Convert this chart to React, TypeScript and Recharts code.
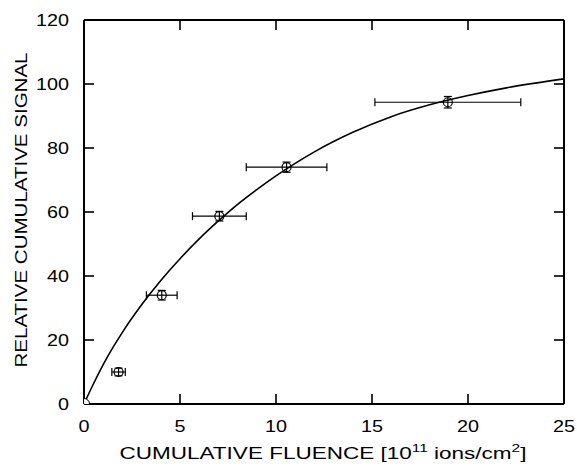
import React from 'react';
import {
  ComposedChart,
  Line,
  Scatter,
  ErrorBar,
  XAxis,
  YAxis,
  ReferenceLine,
} from 'recharts';

// measured points (fluence in 1e11 ions/cm2, relative signal)
const fluence = [1.8, 4.05, 7.05, 10.55, 18.95];
const signal = [10, 34, 58.7, 74, 94.3];
const fluenceErr = [0.35, 0.8, 1.4, 2.1, 3.8];
const signalErr = [1.2, 1.5, 1.5, 1.6, 1.8];

// origin marker
const originX = [0];
const originY = [0];

// fitted curve
const curveX = [0, 0.5, 1, 1.5, 2, 3, 4, 5, 6, 7, 8, 9, 10, 11, 12, 14, 16, 18, 20, 22, 25];
const curveY = [0, 6.4, 12.3, 17.6, 22.4, 31.0, 38.6, 45.4, 51.6, 57.2, 62.4, 67.0, 71.3, 75.2, 78.8, 84.9, 89.8, 93.5, 96.4, 98.8, 101.6];

const xTicks = [0, 5, 10, 15, 20, 25];
const yTicks = [0, 20, 40, 60, 80, 100, 120];

const X_MIN = 0;
const X_MAX = 25;
const Y_MIN = 0;
const Y_MAX = 120;

const points = fluence.map((x, i) => ({
  x,
  y: signal[i],
  xErr: fluenceErr[i],
  yErr: signalErr[i],
}));
const origin = originX.map((x, i) => ({ x, y: originY[i] }));
const curve = curveX.map((x, i) => ({ x, y: curveY[i] }));

// inward tick marks on the frame sides, placed at the tick values
const innerX = xTicks.filter((t) => t > X_MIN && t < X_MAX);
const innerY = yTicks.filter((t) => t > Y_MIN && t < Y_MAX);
const bottomTicks = innerX.map((t) => ({ x: t, y: Y_MIN }));
const topTicks = innerX.map((t) => ({ x: t, y: Y_MAX }));
const leftTicks = innerY.map((t) => ({ x: X_MIN, y: t }));
const rightTicks = innerY.map((t) => ({ x: X_MAX, y: t }));

const FONT = '"Liberation Sans", Arial, Helvetica, sans-serif';
const TICK_PX = 10;

const BottomTick = (props: any) => {
  const { x, y, payload } = props;
  const s = String(payload.value);
  return (
    <text
      x={x}
      y={y + 28}
      textAnchor="middle"
      fontFamily={FONT}
      fontSize={17}
      fill="#000"
      textLength={11 * s.length}
      lengthAdjust="spacingAndGlyphs"
    >
      {s}
    </text>
  );
};

const LeftTick = (props: any) => {
  const { x, y, payload } = props;
  const s = String(payload.value);
  return (
    <text
      x={x - 15}
      y={y + 6}
      textAnchor="end"
      fontFamily={FONT}
      fontSize={17}
      fill="#000"
      textLength={11 * s.length}
      lengthAdjust="spacingAndGlyphs"
    >
      {s}
    </text>
  );
};

const XLabel = (props: any) => {
  const { viewBox } = props;
  const cx = viewBox.x + viewBox.width / 2;
  return (
    <text
      x={cx - 1}
      y={viewBox.y + 55}
      textAnchor="middle"
      fontFamily={FONT}
      fontSize={16}
      fill="#000"
      textLength={407}
      lengthAdjust="spacingAndGlyphs"
    >
      CUMULATIVE FLUENCE [10
      <tspan dy={-7} fontSize={11}>11</tspan>
      <tspan dy={7}> ions/cm</tspan>
      <tspan dy={-7} fontSize={11}>2</tspan>
      <tspan dy={7}>]</tspan>
    </text>
  );
};

const YLabel = (props: any) => {
  const { viewBox } = props;
  const cy = viewBox.y + viewBox.height / 2;
  return (
    <text
      x={27}
      y={cy - 2}
      transform={`rotate(-90, 27, ${cy - 2})`}
      textAnchor="middle"
      fontFamily={FONT}
      fontSize={16}
      fill="#000"
      textLength={315}
      lengthAdjust="spacingAndGlyphs"
    >
      RELATIVE CUMULATIVE SIGNAL
    </text>
  );
};

const PointMark = (props: any) => {
  const { cx, cy } = props;
  return <circle cx={cx} cy={cy} r={4.5} fill="none" stroke="#000" strokeWidth={1.2} />;
};

const OriginMark = (props: any) => {
  const { cx, cy } = props;
  return <circle cx={cx} cy={cy} r={5.5} fill="#fff" stroke="#000" strokeWidth={1} />;
};

// tick shapes: a short rect pointing into the plot
const makeTick = (dx: number, dy: number) => (props: any) => {
  const { cx, cy } = props;
  const w = dx !== 0 ? TICK_PX : 1.6;
  const h = dy !== 0 ? TICK_PX : 1.6;
  const x = dx < 0 ? cx - TICK_PX : dx > 0 ? cx : cx - 0.8;
  const y = dy < 0 ? cy - TICK_PX : dy > 0 ? cy : cy - 0.8;
  return <rect x={x} y={y} width={w} height={h} fill="#000" />;
};
const UpTick = makeTick(0, -1);
const DownTick = makeTick(0, 1);
const RightwardTick = makeTick(1, 0);
const LeftwardTick = makeTick(-1, 0);

const axisLine = { stroke: '#000', strokeWidth: 2 };

export default function App() {
  return (
    <div style={{ position: 'absolute', left: 0, top: 0, background: '#fff' }}>
      <ComposedChart
        width={577}
        height={472}
        data={curve}
        margin={{ top: 20, right: 13, bottom: 0, left: 0 }}
      >
        <XAxis
          dataKey="x"
          type="number"
          domain={[X_MIN, X_MAX]}
          ticks={xTicks}
          height={68}
          tickSize={0}
          tickMargin={0}
          tickLine={false}
          axisLine={axisLine}
          tick={<BottomTick />}
          label={<XLabel />}
          allowDataOverflow
        />
        <YAxis
          dataKey="y"
          type="number"
          domain={[Y_MIN, Y_MAX]}
          ticks={yTicks}
          width={84}
          tickSize={0}
          tickMargin={0}
          tickLine={false}
          axisLine={axisLine}
          tick={<LeftTick />}
          label={<YLabel />}
          allowDataOverflow
        />
        <ReferenceLine y={Y_MAX} stroke="#000" strokeWidth={2} ifOverflow="visible" />
        <ReferenceLine x={X_MAX} stroke="#000" strokeWidth={2} ifOverflow="visible" />
        <Scatter data={bottomTicks} shape={UpTick} isAnimationActive={false} />
        <Scatter data={topTicks} shape={DownTick} isAnimationActive={false} />
        <Scatter data={leftTicks} shape={RightwardTick} isAnimationActive={false} />
        <Scatter data={rightTicks} shape={LeftwardTick} isAnimationActive={false} />
        <Line
          dataKey="y"
          type="monotone"
          stroke="#000"
          strokeWidth={1.6}
          dot={false}
          activeDot={false}
          isAnimationActive={false}
        />
        <Scatter data={points} shape={<PointMark />} isAnimationActive={false}>
          <ErrorBar dataKey="xErr" direction="x" width={4} stroke="#000" strokeWidth={1.2} />
          <ErrorBar dataKey="yErr" direction="y" width={4} stroke="#000" strokeWidth={1.2} />
        </Scatter>
        <Scatter data={origin} shape={<OriginMark />} isAnimationActive={false} />
      </ComposedChart>
    </div>
  );
}
